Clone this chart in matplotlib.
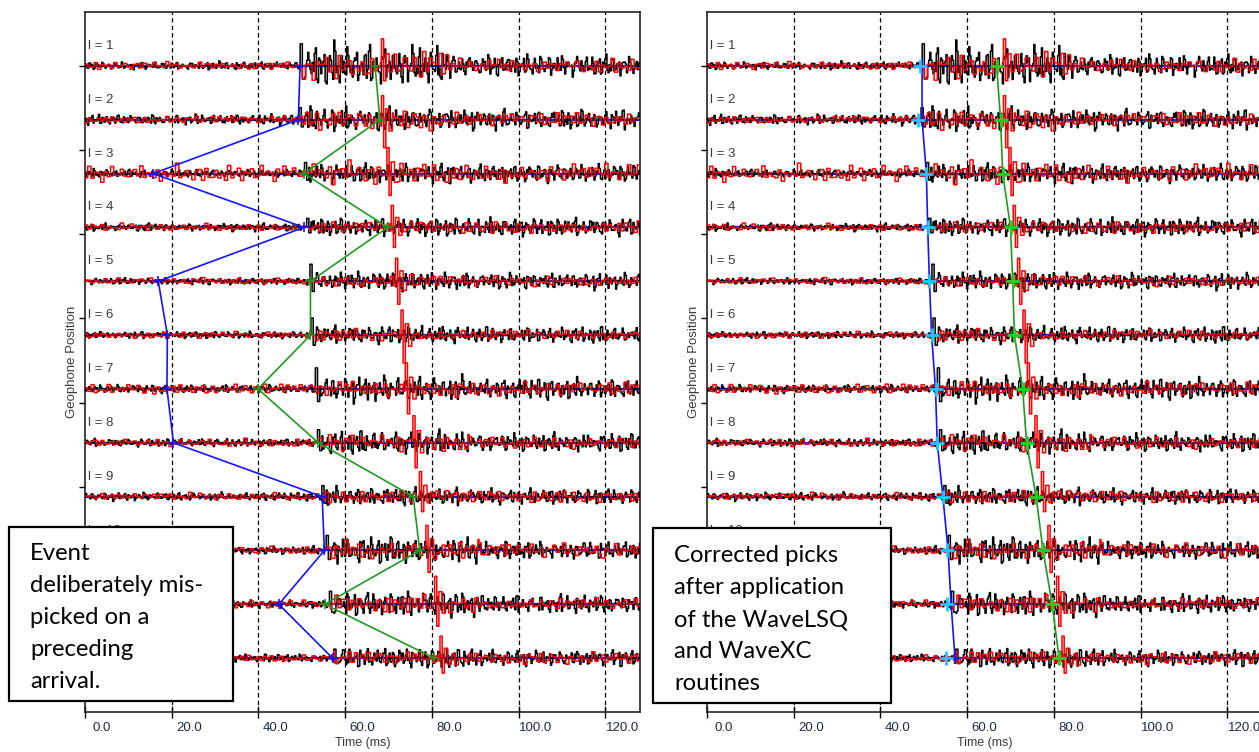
import numpy as np
import matplotlib
matplotlib.use("Agg")
import matplotlib.pyplot as plt
from matplotlib.patches import Rectangle
from matplotlib import transforms

# ---------------- data ----------------
levels = list(range(1, 13))
level_labels = [f"l = {n}" for n in levels]
# labels of levels 11 and 12 sit completely under the annotation boxes
labelled_levels = levels[:10]

xticks = [0, 20, 40, 60, 80, 100, 120]
xtick_labels = ["0.0", "20.0", "40.0", "60.0", "80.0", "100.0", "120.0"]
ytick_pos = [1.0, 2.56, 4.13, 5.69, 7.26, 8.82, 10.39, 11.95]

# picks (ms) per level
blue_left = [49.6, 49.2, 15.7, 50.5, 16.9, 19.0, 18.9, 20.4, 54.7, 55.2, 44.7, 57.1]
green_left = [66.9, 68.0, 50.5, 69.8, 52.0, 52.0, 39.9, 53.8, 75.7, 77.2, 55.3, 80.6]
blue_right = [49.6, 49.6, 50.6, 50.9, 51.3, 51.8, 52.7, 53.1, 54.4, 55.6, 56.3, 57.2]
cyan_right = [49.1, 48.6, 50.6, 50.9, 51.2, 51.8, 52.7, 53.1, 54.4, 55.3, 55.3, 55.2]
green_right = [66.8, 67.7, 68.2, 70.0, 70.5, 70.9, 72.8, 73.7, 75.9, 77.5, 79.6, 81.2]

# trace character per level (amplitudes in pixels of the original)
onset = [49.7, 49.6, 50.8, 51.2, 51.9, 52.3, 53.3, 53.7, 54.8, 55.8, 56.6, 57.5]
black_pre = [3.5, 4.5, 3.5, 3.5, 3, 3, 3.5, 3.5, 3.5, 3.5, 3.5, 3.5]
black_post = [18, 11, 9, 8, 8, 8, 11, 10, 8, 12, 11, 9]
black_late = [10, 9, 8, 8, 7, 7, 9, 8, 7, 8, 8, 7]
black_spike = [22, 12, 11, 9, 17, 17, 21, 13, 11, 15, 13, 9]
red_pre = [3.5, 3.5, 8, 3.5, 3, 3, 5, 3.5, 3.5, 3.5, 3.5, 3.5]
red_post = [15, 11, 10, 6, 6, 6, 8, 8, 7, 10, 9, 7]
red_late = [7, 7, 9, 6, 5, 5, 7, 6, 6, 7, 6, 6]
red_event_t = [68.4, 68.4, 69.8, 70.8, 71.7, 73.1, 74.1, 75.7, 77.3, 78.8, 80.7, 82.1]
red_event_up = [27, 24, 26, 22, 23, 25, 26, 27, 25, 25, 28, 22]
red_event_dn = [15, 28, 22, 20, 23, 28, 25, 25, 15, 22, 22, 15]

# hand-typed wiggle shapes (typical jagged sample pattern)
pat_a = [2, -3, 5, -1, -6, 4, 1, -2, 7, -4,
         0, 3, -8, 2, 5, -3, -1, 6, -5, 2,
         -2, 4, -7, 1, 3, -4, 8, -2, -5, 3,
         0, -3, 6, -1, -4, 2, 5, -6, 1, -2,
         4, -3, 7, -5, 0, 2, -1, -6, 3, 5,
         -2, 1, -4, 6, -3, -1, 4, -7, 2, 3,
         -5, 1, 8, -4, -2, 5, -3, 0, 2, -6,
         4, 1, -3, 6, -2, -5, 3, -1, 4, -4,
         2, 7, -6, 1, -2, 3, -5, 0, 5]
pat_b = [-1, 4, -2, -5, 3, 1, -3, 6, -4, 2,
         0, -2, 5, -6, 3, -1, 2, -4, 7, -3,
         -2, 4, 1, -5, 2, 3, -6, 4, -1, -2,
         5, -3, 1, -4, 6, -2, 0, 3, -5, 2,
         -1, 4, -3, -2, 6, -4, 1, 2, -5, 3,
         -1, 5, -3]

# ---------------- build traces ----------------
dt = 0.25
t = np.arange(0, 128.0 + dt / 2, dt)
n = len(t)
A, B = np.array(pat_a), np.array(pat_b)
La, Lb = len(A), len(B)
gain = 1 / 53.85  # pixels -> trace spacing units
late_after = 35.0

black_tr, red_tr = [], []
for i in range(12):
    k = np.arange(n)
    kb = k // 2
    kr_ = k // 3
    wb = (A[(kb + 11 * i) % La] + 0.5 * B[(k + 5 * i) % Lb]) / 8.0
    wr = (B[(kr_ + 17 * i + 9) % Lb] + 0.4 * A[(3 * kr_ + 23 * i + 40) % La]) / 7.5
    envb = np.where(t < onset[i], black_pre[i], np.where(t < onset[i] + late_after, black_post[i], black_late[i]))
    envr = np.where(t < onset[i], red_pre[i], np.where(t < onset[i] + late_after, red_post[i], red_late[i]))
    b = wb * envb
    r = wr * envr
    ko = int(round(onset[i] / dt))
    b[ko:ko + 2] = black_spike[i]
    b[ko + 2:ko + 4] = -0.6 * black_spike[i]
    kr = int(round(red_event_t[i] / dt))
    r[kr:kr + 2] = red_event_up[i]
    r[kr + 2:kr + 4] = -red_event_dn[i]
    r[kr + 4:kr + 7] = 0.45 * red_event_up[i]
    r[kr + 7:kr + 10] = -0.4 * red_event_dn[i]
    black_tr.append(b)
    red_tr.append(r)

# ---------------- figure ----------------
W, H = 1259, 752
fig = plt.figure(figsize=(W / 100, H / 100), dpi=100)
fig.patch.set_facecolor("white")

BLUE = "#1414ff"
GREEN = "#1f9a1f"
GREEN_MK = "#22cc22"
CYAN = "#1ec8ff"
TICK_COL = "#1f2a44"
LAB_COL = "#3a3a3a"
FONT = ["Liberation Sans", "DejaVu Sans"]


def px_axes(x0, y_top, w, h):
    return [x0 / W, (H - y_top - h) / H, w / W, h / H]


def draw_panel(ax, blue, green, cyan=None, corrected=False):
    ax.set_xlim(0, 128)
    ax.set_ylim(13, 0)
    for xv in xticks[1:]:
        ax.axvline(xv, color="black", lw=0.9, ls=(0, (3.5, 2.5)), zorder=1)
    for i, lev in enumerate(levels):
        ax.axhline(lev, color=BLUE, lw=1.6, zorder=2)
        ax.plot(t, lev - gain * black_tr[i], color="black", lw=1.1,
                drawstyle="steps-mid", zorder=3)
        ax.plot(t, lev - gain * red_tr[i], color="#ff0000", lw=1.1,
                drawstyle="steps-mid", zorder=4)
        if lev in labelled_levels:
            ax.text(0.7, lev - 0.37, level_labels[i], fontsize=9.5, color=LAB_COL,
                    family=FONT, ha="left", va="center", zorder=5)
    ax.plot(blue, levels, color=BLUE, lw=1.2, zorder=6)
    ax.plot(green, levels, color=GREEN, lw=1.2, zorder=6)
    if corrected:
        ax.plot(blue, levels, ls="none", marker="+", ms=9, mew=1.6, color=BLUE, zorder=7)
        ax.plot(cyan, levels, ls="none", marker="+", ms=10, mew=2.0, color=CYAN, zorder=8)
        ax.plot(green, levels, ls="none", marker="+", ms=10, mew=2.2, color=GREEN_MK, zorder=8)
    else:
        ax.plot(blue, levels, ls="none", marker="+", ms=7, mew=1.2, color=BLUE, zorder=7)
        ax.plot(green, levels, ls="none", marker="+", ms=7, mew=1.2, color=GREEN, zorder=7)

    ax.set_xticks(xticks)
    ax.set_xticklabels(xtick_labels, fontsize=9.5, color=TICK_COL, family=FONT)
    ax.tick_params(axis="x", direction="inout", length=8, width=1.0, pad=3, colors="black",
                   labelcolor=TICK_COL)
    off = transforms.ScaledTranslation(0.17, 0, fig.dpi_scale_trans)
    for lab in ax.get_xticklabels():
        lab.set_transform(lab.get_transform() + off)
    ax.set_yticks(ytick_pos)
    ax.set_yticklabels([])
    ax.tick_params(axis="y", direction="out", length=4, width=1.0)
    for sp in ax.spines.values():
        sp.set_linewidth(1.2)
        sp.set_color("#222222")
    ax.set_xlabel("Time (ms)", fontsize=9, color=LAB_COL, family=FONT)
    ax.xaxis.set_label_coords(0.5, -0.036)
    ax.set_ylabel("Geophone Position", fontsize=9.5, color=LAB_COL, family=FONT)
    ax.yaxis.set_label_coords(-0.0135, 0.5)


ax1 = fig.add_axes(px_axes(85, 12, 555, 700))
draw_panel(ax1, blue_left, green_left)
ax2 = fig.add_axes(px_axes(707, 12, 555, 700))
draw_panel(ax2, blue_right, green_right, cyan=cyan_right, corrected=True)

# annotation boxes
left_box_lines = ["Event", "deliberately mis-", "picked on a", "preceding", "arrival."]
right_box_lines = ["Corrected picks", "after application", "of the WaveLSQ", "and WaveXC", "routines"]

BOX_FONT = ["Lato", "Open Sans", "DejaVu Sans"]


def add_box(x0, y0, x1, y1, tx, ty, lines):
    rect = Rectangle((x0 / W, 1 - y1 / H), (x1 - x0) / W, (y1 - y0) / H,
                     transform=fig.transFigure, facecolor="white", edgecolor="black",
                     lw=1.6, zorder=10)
    fig.add_artist(rect)
    for j, line in enumerate(lines):
        fig.text(tx / W, 1 - (ty + 32 * j) / H, line, fontsize=17.2, family=BOX_FONT,
                 color="black", ha="left", va="center", zorder=11)


add_box(9, 527, 233, 701, 30, 553, left_box_lines)
add_box(653, 528, 891, 703, 674, 556, right_box_lines)

fig.savefig("out.png", dpi=100)
